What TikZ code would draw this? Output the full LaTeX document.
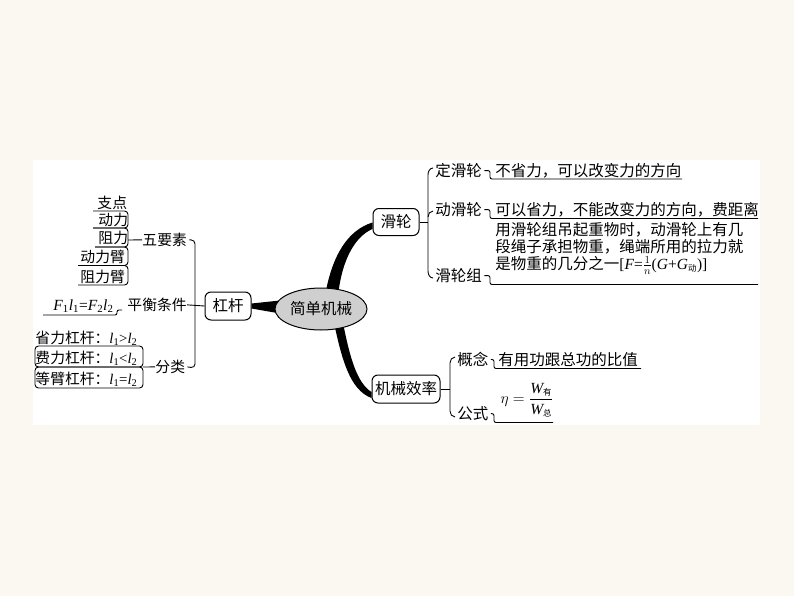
\documentclass[tikz,border=0pt]{standalone}
\usepackage{fix-cm}
\usepackage{fontspec}
\setmainfont{Noto Sans CJK SC}
\newfontfamily\tmf{Liberation Serif}
\usetikzlibrary{shapes.geometric}
\definecolor{bgc}{HTML}{FBF8F1}
\definecolor{ellc}{HTML}{CFCFCF}
\newcommand{\cjks}[1]{\mbox{\normalfont\fontsize{8.5}{9}\selectfont #1}}
\newcommand{\lf}{\fontsize{14.8}{17}\selectfont}
\newcommand{\vv}[2]{{\tmf\itshape #1}\textsubscript{\tmf #2}}
\newcommand{\vc}[2]{{\tmf\itshape #1}\textsubscript{\cjks{#2}}}
\newcommand{\op}[1]{{\tmf #1}}
\begin{document}
\begin{tikzpicture}[x=1pt,y=-1pt,font=\fontsize{15.5}{18}\selectfont,line width=0.9pt,
  lbl/.style={inner sep=0pt,anchor=base west},
  llbl/.style={inner sep=0pt,anchor=base west,font=\lf},
  rbox/.style={draw,rounded corners=6pt,minimum height=28pt,inner sep=2pt,line width=1pt},
  ln/.style={rounded corners=3.5pt}]
\fill[bgc] (0,0) rectangle (794,596);
\useasboundingbox (0,0) rectangle (794,596);
\fill[white] (33,160) rectangle (760,425);

% main nodes
\node[rbox,minimum width=46pt] (lever) at (228,306) {杠杆};
\node[rbox,minimum width=46pt,minimum height=27pt] (pulley) at (396,222) {滑轮};
\node[rbox,minimum width=68pt] (eff) at (406,389) {机械效率};

% thick branches
\fill ([yshift=2.5pt]lever.east) -- ([yshift=-2.5pt]lever.east) -- (280,313.5) -- (280,300.5) -- cycle;
\fill ([yshift=-0.5pt]pulley.west) .. controls (348,230) and (332,255) .. (325,296)
      -- (338,296) .. controls (342,258) and (356,236) .. ([yshift=-7pt]pulley.west) -- cycle;
\fill (334,323) .. controls (342,360) and (350,390) .. ([yshift=-9pt]eff.west)
      -- ([yshift=-3pt]eff.west) .. controls (357,383) and (350,358) .. (343,323) -- cycle;

\node[draw,ellipse,fill=ellc,minimum width=92pt,minimum height=42pt,inner sep=0pt,line width=1pt] (root) at (321,309) {简单机械};

% ---------- lever: five elements ----------
\node[llbl] (zd) at (97,208.5) {支点};
\node[llbl] (dl) at (98,225.5) {动力};
\node[llbl] (zl) at (98,243.5) {阻力};
\node[llbl] (dlb) at (80,262.5) {动力臂};
\node[llbl] (zlb) at (80,282) {阻力臂};
\draw[ln] (93,211) -- (128,211) -- (128,228) -- (93,228);
\draw[ln] (93,228) -- (128,228) -- (128,247) -- (95,247);
\draw[ln] (95,247) -- (128,247) -- (128,265.5) -- (78,265.5);
\draw[ln] (78,265.5) -- (128,265.5) -- (128,285) -- (78,285);
\node[llbl] (wys) at (142,245.5) {五要素};
\draw (128,240) -- (wys.west);

% balance condition
\node[lbl] (eq) at (53,310) {\vv{F}{1}\vv{l}{1}\op{=}\vv{F}{2}\vv{l}{2}};
\draw[rounded corners=2pt] (43,315) -| (117,310) -- (122,310);
\node[llbl] (phtj) at (127,310.5) {平衡条件};

% classification
\node[llbl] (sl) at (35,343) {省力杠杆：\vv{l}{1}\op{>}\vv{l}{2}};
\node[llbl] (fl) at (35,363.5) {费力杠杆：\vv{l}{1}\op{<}\vv{l}{2}};
\node[llbl] (db) at (35,384) {等臂杠杆：\vv{l}{1}\op{=}\vv{l}{2}};
\draw[ln] (35,346) rectangle (143,367);
\draw[ln] (35,367) rectangle (143,388);
\node[llbl] (fenlei) at (155,372.5) {分类};
\draw (143,367) -- (fenlei.west);

% lever brace
\draw[rounded corners=4pt] ([xshift=2pt]wys.east) -| (195,368) -- ([xshift=2pt]fenlei.east);
\draw (phtj.east) -- (lever.west);

% ---------- pulley ----------
\draw (pulley.east) -- (428,222);
\draw (433,168) to[out=180,in=90] (428,175) -- (428,271) to[out=-90,in=180] (433,278);
\draw (428,217) to[out=90,in=180] (433,211);
\node[lbl] (ding) at (435,176.5) {定滑轮};
\node[lbl] (dong) at (435,215.5) {动滑轮};
\node[lbl] (zu) at (435,281.5) {滑轮组};
\node[lbl] (t1) at (495,176.5) {不省力，可以改变力的方向};
\node[lbl] (t2) at (495,215.5) {可以省力，不能改变力的方向，费距离};
\node[lbl] (t3a) at (495,235.5) {用滑轮组吊起重物时，动滑轮上有几};
\node[lbl] (t3b) at (495,252.5) {段绳子承担物重，绳端所用的拉力就};
\node[lbl] (t3c) at (495,269.5) {是物重的几分之一\op{[}{\tmf\itshape F}\op{=}$\frac{1}{n}$\op{(}{\tmf\itshape G}\op{+}\vc{G}{动}\op{)]}};
\draw[rounded corners=2pt] ([xshift=2pt]ding.east) -| (490,179) -- (682,179);
\draw[rounded corners=2pt] ([xshift=2pt]dong.east) -| (490,218.5) -- (758,218.5);
\draw[rounded corners=2pt] ([xshift=2pt]zu.east) -| (490,284.5) -- (758,284.5);

% ---------- efficiency ----------
\draw (eff.east) -- (450,389);
\draw (455,357) to[out=180,in=90] (450,363) -- (450,411) to[out=-90,in=180] (455,417);
\node[lbl] (gn) at (457,365.5) {概念};
\node[lbl] (gs) at (457,419.5) {公式};
\node[lbl] (def) at (498,365.5) {有用功跟总功的比值};
\node (eta) at (527,400) {$\eta=\displaystyle\frac{\hbox{\vc{W}{有}}}{\hbox{\vc{W}{总}}}$};
\draw[rounded corners=2pt] ([xshift=2pt]gn.east) -| (494,368.5) -- (641,368.5);
\draw[rounded corners=2pt] ([xshift=2pt]gs.east) -| (494,422.5) -- (553,422.5);
\end{tikzpicture}
\end{document}
